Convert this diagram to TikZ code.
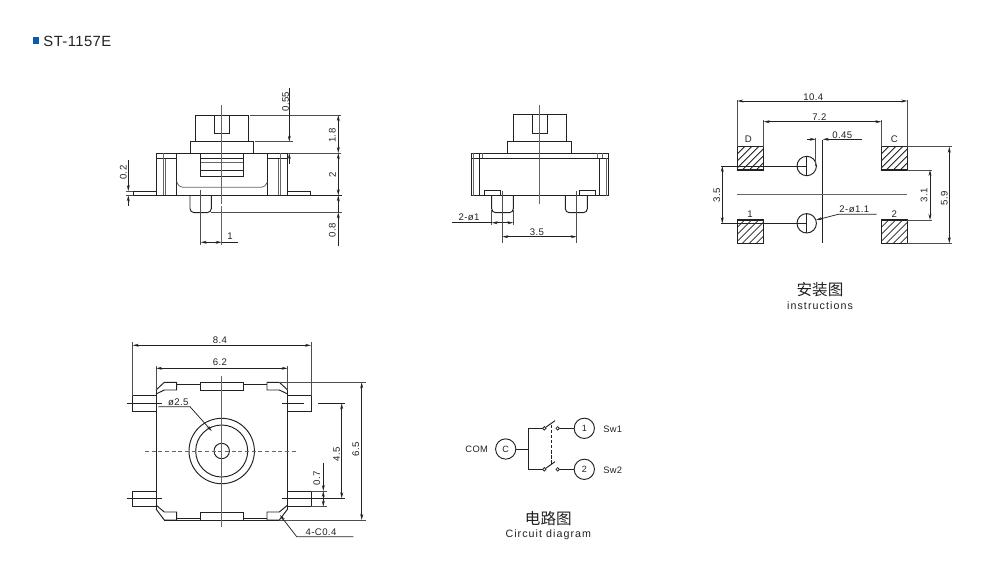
\documentclass[tikz,border=0pt]{standalone}
\usepackage{fontspec}
\setmainfont{Liberation Sans}
\newfontfamily\cjk{Noto Sans CJK SC}
\newfontfamily\dimfont[LetterSpace=4]{Liberation Sans}
\newfontfamily\capfont[LetterSpace=10]{Liberation Sans}
\newfontfamily\titlefont[LetterSpace=3]{Liberation Sans}
\usetikzlibrary{arrows.meta}
\definecolor{ink}{HTML}{222222}
\definecolor{midgray}{HTML}{666666}
\definecolor{titleblue}{HTML}{0B5CA8}
\newcommand{\hatchpad}[4]{%
  \begin{scope}
    \clip (#1,#2) rectangle (#3,#4);
    \foreach \k in {-30,-23,...,40} {\draw[hatchln] (#1+\k,#4) -- ++(30,-30);}
  \end{scope}
  \draw[padln] (#1,#2) rectangle (#3,#4);
}
\tikzset{
  obj/.style={draw=ink,line width=0.72pt,line join=miter},
  thin gray/.style={draw=midgray,line width=0.6pt},
  cline/.style={draw=midgray,line width=0.65pt},
  ext/.style={draw=ink!80,line width=0.55pt},
  dimln/.style={draw=ink,line width=0.55pt},
  tipa/.style={-{Stealth[length=4.5pt,width=2.2pt]}},
  tipb/.style={{Stealth[length=4.5pt,width=2.2pt]}-{Stealth[length=4.5pt,width=2.2pt]}},
  hatchln/.style={draw=ink,line width=0.65pt},
  padln/.style={draw=ink,line width=1.1pt},
  dl/.style={inner sep=0pt,text=ink,font=\fontsize{7.2pt}{8pt}\selectfont\dimfont},
  dlr/.style={dl,rotate=90},
  capcn/.style={inner sep=0pt,text=ink,font=\fontsize{11.7pt}{12pt}\selectfont\cjk},
  capen/.style={inner sep=0pt,text=ink,font=\fontsize{8pt}{9pt}\selectfont\capfont},
  term/.style={circle,draw=ink,line width=0.7pt,minimum size=15.2pt,inner sep=0pt,text=ink,font=\fontsize{6.8pt}{7pt}\selectfont},
  contact/.style={circle,draw=ink,line width=0.55pt,fill=white,minimum size=2.6pt,inner sep=0pt},
  cirtext/.style={anchor=center,inner sep=0pt,text=ink,font=\fontsize{7pt}{8pt}\selectfont\dimfont},
}
\begin{document}
\begin{tikzpicture}[x=0.75pt,y=-0.75pt]
\useasboundingbox (0,0) rectangle (991,579);
\fill[white] (0,0) rectangle (991,579);
% title
\fill[titleblue] (32.7,37.3) rectangle (39.3,44);
\node[anchor=west,inner sep=0pt,text=ink,font=\fontsize{11.1pt}{12pt}\selectfont\titlefont] (title) at (43.2,41) {ST-1157E};

%% ---------- front view
\draw[obj] (195.7,141.7) -- (195.7,115) -- (248.3,115) -- (248.3,141.7);
\draw[obj] (214.7,115) -- (214.7,133.3) -- (229.3,133.3) -- (229.3,115);
\draw[obj] (190.3,153) -- (190.3,141.7) -- (253.7,141.7) -- (253.7,153);
\draw[obj] (156.7,195.3) -- (156.7,153) -- (287.7,153) -- (287.7,195.3);
\draw[obj] (156.7,158.7) -- (176.7,158.7) (267.3,158.7) -- (287.7,158.7);
\draw[obj] (176.7,153) -- (176.7,195.3) (267.3,153) -- (267.3,195.3);
\draw[obj] (200.7,153) -- (200.7,176.7) -- (243.3,176.7) -- (243.3,153);
\draw[obj] (200.7,158.7) -- (243.3,158.7) (200.7,170.7) -- (243.3,170.7);
\draw[thin gray] (200.7,162.3) -- (243.3,162.3);
\draw[thin gray] (163.3,153) -- (163.3,158.7) (163.3,158.7) -- (163.3,195.3) (165.7,158.7) -- (165.7,195.3);
\draw[thin gray] (280.7,153) -- (280.7,158.7) (278.3,158.7) -- (278.3,195.3) (280.7,158.7) -- (280.7,195.3);
\draw[thin gray] (176.7,181.7) .. controls (178,185.5) and (180,187.3) .. (184,187.3) -- (260,187.3) .. controls (264,187.3) and (266,185.5) .. (267.3,181.7);
\draw[obj] (156.7,191) -- (133.3,191) -- (133.3,195.3);
\draw[obj] (287.7,191) -- (310.7,191) -- (310.7,195.3);
\draw[obj] (133.3,195.3) -- (341.7,195.3);
\draw[obj,rounded corners=3pt] (190,195.3) -- (190,212.6) -- (211.3,212.6) -- (211.3,195.3);
\draw[ext] (211.3,212.4) -- (341.7,212.4);
\draw[cline] (221.7,105) -- (221.7,204) (221.7,206) -- (221.7,245);
\draw[ext] (200.7,190) -- (200.7,245);
\draw[dimln,tipb] (200.7,242.3) -- (221.7,242.3);
\draw[dimln] (221.7,242.3) -- (238,242.3);
\node[dl] (f1) at (230,236) {1};
\draw[ext] (250,115) -- (340.7,115) (255,141.7) -- (293,141.7) (287.7,153) -- (340.7,153);
\draw[dimln,tipa] (289.3,88) -- (289.3,141.7);
\draw[dimln,tipa] (289.3,164) -- (289.3,153);
\node[dlr] (f055) at (285.6,101.7) {0.55};
\draw[dimln,tipb] (338.3,115) -- (338.3,153);
\draw[dimln,tipb] (338.3,153) -- (338.3,195.3);
\draw[dimln,tipa] (338.3,245.7) -- (338.3,212.4);
\draw[dimln,tipa] (338.3,212.4) -- (338.3,195.3);
\node[dlr] (f18) at (332.4,135.7) {1.8};
\node[dlr] (f2) at (332.4,175) {2};
\node[dlr] (f08) at (332.4,230) {0.8};
\draw[ext] (126,191) -- (133.3,191) (126,195.3) -- (133.3,195.3);
\draw[dimln,tipa] (128.3,160) -- (128.3,191);
\draw[dimln,tipa] (128.3,206) -- (128.3,195.3);
\node[dlr] (f02) at (123.4,172.7) {0.2};

%% ---------- side view
\draw[obj] (513.3,141.7) -- (513.3,114.3) -- (566.3,114.3) -- (566.3,141.7);
\draw[obj] (532.7,114.3) -- (532.7,133) -- (547.7,133) -- (547.7,114.3);
\draw[obj] (507.7,153) -- (507.7,141.7) -- (571.7,141.7) -- (571.7,153);
\draw[obj] (471,153) rectangle (608.3,195.7);
\draw[obj] (471,158.3) -- (608.3,158.3);
\draw[obj] (479.3,153) -- (479.3,195.7) (599.3,158.3) -- (599.3,195.7);
\draw[thin gray] (473.5,153) -- (473.5,195.7) (482,153) -- (482,158.3) (597.7,153) -- (597.7,158.3) (602.3,153) -- (602.3,158.3) (606,158.3) -- (606,195.7);
\draw[obj] (484.7,195.7) -- (484.7,190.7) -- (500,190.7) -- (500,195.7);
\draw[obj] (579.3,195.7) -- (579.3,190.7) -- (595,190.7) -- (595,195.7);
\draw[obj,rounded corners=3pt] (491.7,195.7) -- (491.7,212.7) -- (513.3,212.7) -- (513.3,195.7);
\draw[obj,rounded corners=3pt] (565.3,195.7) -- (565.3,212.7) -- (587.3,212.7) -- (587.3,195.7);
\draw[cline] (539.3,105) -- (539.3,204);
\draw[ext] (491.7,210) -- (491.7,224.5) (513.3,210) -- (513.3,224.5);
\draw[dimln] (451.7,222.7) -- (491.7,222.7);
\draw[dimln,tipb] (491.7,222.7) -- (513.3,222.7);
\node[dl] (s2d1) at (469,217) {2-ø1};
\draw[ext] (502.3,190.7) -- (502.3,242.5) (576.7,190.7) -- (576.7,242.5);
\draw[dimln,tipb] (502.3,236.7) -- (576.7,236.7);
\node[dl] (s35) at (537,232) {3.5};

%% ---------- mounting pattern
\hatchpad{737.3}{146.7}{763.7}{170}
\hatchpad{881.3}{146.7}{907.3}{170}
\hatchpad{737.3}{220}{763.7}{243.3}
\hatchpad{881.3}{220}{907.3}{243.3}
\draw[ext] (737.3,100) -- (737.3,146.7) (907.3,100) -- (907.3,146.7);
\draw[dimln,tipb] (737.3,101) -- (907.3,101);
\node[dl] (m104) at (813.3,96.7) {10.4};
\draw[ext] (763.7,120) -- (763.7,146.7) (881.3,120) -- (881.3,146.7);
\draw[dimln,tipb] (763.7,121.7) -- (881.3,121.7);
\node[dl] (m72) at (819.3,116.7) {7.2};
\node[dl] (mD) at (748.3,139) {D};
\node[dl] (mC) at (894.3,139) {C};
\node[dl] (m1) at (750,214.3) {1};
\node[dl] (m2) at (894.3,214.3) {2};
\draw[obj] (806.7,166) circle (9.7);
\draw[obj] (806.7,223.3) circle (9.7);
\draw[obj] (721,166) -- (806.7,166) (806.7,156) -- (806.7,176);
\draw[obj] (721,223.3) -- (806.7,223.3) (806.7,213.5) -- (806.7,233);
\draw[dimln,tipb] (722.3,166) -- (722.3,223.3);
\node[dlr] (m35) at (716.7,195) {3.5};
\draw[obj,line width=0.6pt] (822.7,140) -- (822.7,243.3);
\draw[cline,line width=0.9pt] (737.3,194.7) -- (907.3,194.7);
\draw[ext] (815.7,137.7) -- (815.7,166);
\draw[dimln,tipa] (807.3,139.3) -- (815.7,139.3);
\draw[dimln,tipa] (861.7,139.3) -- (822.7,139.3);
\node[dl] (m045) at (842.3,135.4) {0.45};
\draw[dimln,tipa] (876.7,214.3) -- (838.3,214.3) -- (816,220);
\node[dl] (m2d11) at (854.3,209.3) {2-ø1.1};
\draw[ext] (907.3,170) -- (932,170) (907.3,220) -- (932,220);
\draw[dimln,tipb] (930,170) -- (930,220);
\node[dlr] (m31) at (924,195) {3.1};
\draw[ext] (907.3,146.7) -- (951.5,146.7) (907.3,243.3) -- (951.5,243.3);
\draw[dimln,tipb] (949.3,146.7) -- (949.3,243.3);
\node[dlr] (m59) at (944.3,198) {5.9};
\node[capcn] (mcn) at (820,290) {安装图};
\node[capen] (men) at (820,305.7) {instructions};

%% ---------- top view
\draw[obj] (156,390) -- (156,509);
\draw[obj] (287.7,390) -- (287.7,509);
\draw[obj] (156,390) -- (164.3,382.3) -- (176.7,382.3) -- (176.7,390) -- (164.3,390) -- (156,394);
\draw[obj] (287.7,390) -- (279.3,382.3) -- (267,382.3) -- (267,390) -- (279.3,390) -- (287.7,394);
\draw[obj] (156,509) -- (164.3,520) -- (176.7,520) -- (176.7,512) -- (164.3,512) -- (156,505);
\draw[obj] (287.7,509) -- (279.3,520) -- (267,520) -- (267,512) -- (279.3,512) -- (287.7,505);
\draw[obj] (200.3,382.3) rectangle (243.3,390);
\draw[obj] (200.3,512) rectangle (243.3,520);
\draw[obj] (176.7,384.3) -- (200.3,384.3) (243.3,384.3) -- (267,384.3);
\draw[obj] (176.7,518) -- (200.3,518) (243.3,518) -- (267,518);
\draw[obj] (164.3,520) -- (279.3,520);
\draw[obj] (156,395.7) -- (132.7,395.7) -- (132.7,411.3) -- (156,411.3);
\draw[obj] (156,491) -- (132.7,491) -- (132.7,506.7) -- (156,506.7);
\draw[obj] (287.7,395.7) -- (311,395.7) -- (311,411.3) -- (287.7,411.3);
\draw[obj] (287.7,491) -- (311,491) -- (311,506.7) -- (287.7,506.7);
\draw[obj] (221.7,451) circle (32.7);
\draw[obj] (221.7,451) circle (26);
\draw[obj] (221.7,451) circle (7.7);
\draw[cline,densely dashed] (145,451) -- (295.7,451);
\draw[cline] (221.7,375.7) -- (221.7,526.7);
\draw[dimln] (126.7,403.3) -- (161.7,403.3) (126.7,498.3) -- (161.7,498.3);
\draw[dimln] (281.7,403.3) -- (304,403.3) (318.3,403.3) -- (345,403.3);
\draw[dimln] (281.7,498.3) -- (345,498.3);
\draw[ext] (132.7,342) -- (132.7,395.7) (311,342) -- (311,395.7);
\draw[dimln,tipb] (132.7,345.3) -- (311,345.3);
\node[dl] (t84) at (220,340) {8.4};
\draw[ext] (156,366) -- (156,390) (287.7,366) -- (287.7,390);
\draw[dimln,tipb] (156,368.3) -- (287.7,368.3);
\node[dl] (t62) at (220,362.3) {6.2};
\draw[dimln,tipa] (158.3,406.7) -- (190,406.7) -- (211.7,431);
\node[dl] (td25) at (178.3,402.3) {ø2.5};
\draw[ext] (279,382.3) -- (366,382.3) (279,520) -- (366,520);
\draw[dimln,tipb] (361.7,382.3) -- (361.7,520);
\node[dlr] (t65) at (355.7,449.3) {6.5};
\draw[dimln,tipb] (341.7,403.3) -- (341.7,498.3);
\node[dlr] (t45) at (336.7,454.3) {4.5};
\draw[ext] (311,491) -- (327,491) (311,506.7) -- (327,506.7);
\draw[dimln,tipa] (323.3,462.7) -- (323.3,491);
\draw[dimln,tipb] (323.3,491) -- (323.3,506.7);
\node[dlr] (t07) at (316.7,478.3) {0.7};
\draw[dimln,tipa] (353.3,536.7) -- (296.7,536.7) -- (280,515);
\node[dl] (tc04) at (321,531.7) {4-C0.4};

%% ---------- circuit
\node[cirtext] (com) at (476.7,449.3) {COM};
\node[term] (cc) at (505.7,449) {C};
\node[term] (c1) at (584.3,428.3) {1};
\node[term] (c2) at (584.3,469.3) {2};
\node[cirtext] (sw1) at (612.7,429) {Sw1};
\node[cirtext] (sw2) at (612.7,470) {Sw2};
\coordinate (bus) at (528.3,449);
\coordinate (arm1) at (555,420.7);
\coordinate (arm2) at (555,461.7);
\node[contact] (a1) at (544.3,428.3) {};
\node[contact] (b1) at (557.7,428.3) {};
\node[contact] (a2) at (544.3,469.3) {};
\node[contact] (b2) at (557.7,469.3) {};
\draw[obj] (cc) -- (bus);
\draw[obj] (a1.west) -- (528.3,428.3) -- (528.3,469.3) -- (a2.west);
\draw[obj] (b1) -- (c1);
\draw[obj] (b2) -- (c2);
\draw[obj] (a1) -- (arm1);
\draw[obj] (a2) -- (arm2);
\draw[obj,dash pattern=on 2.4pt off 1.4pt] (551.7,425) -- (551.7,465);
\node[capcn] (ccn) at (548.3,519) {电路图};
\node[capen] (cen) at (548.3,534.3) {Circuit diagram};
\end{tikzpicture}
\end{document}
